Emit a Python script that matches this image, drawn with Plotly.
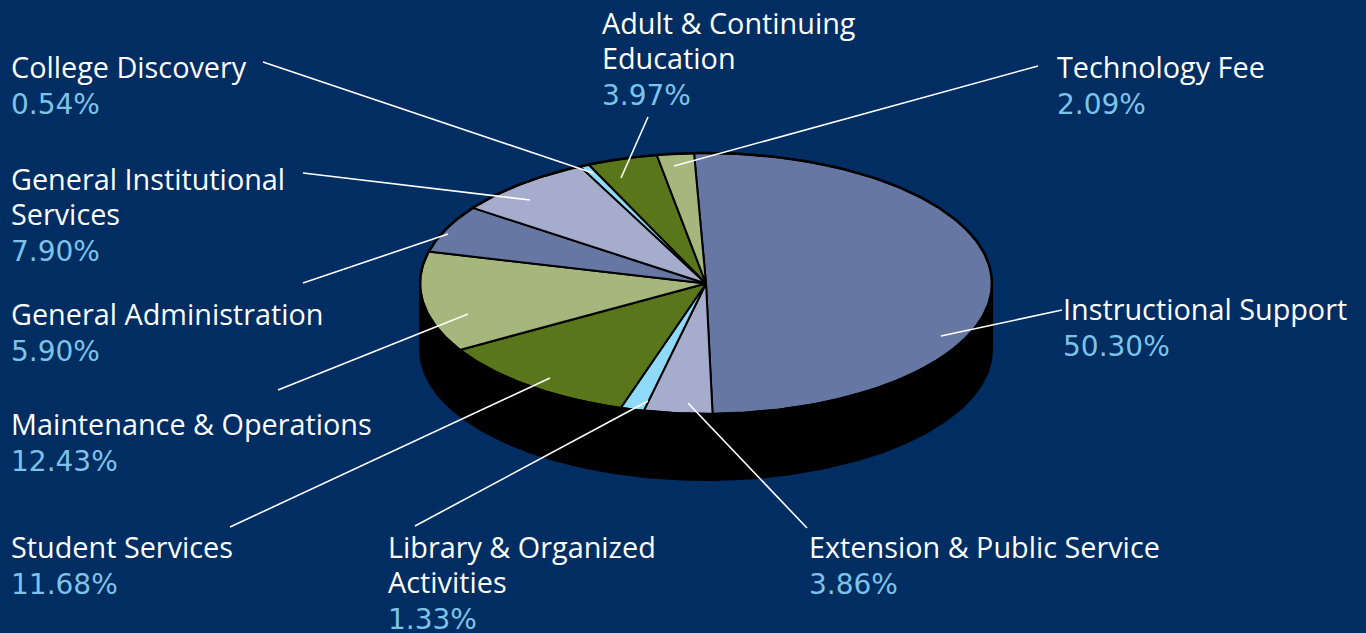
import numpy as np
import plotly.graph_objects as go

# ---------------- data ----------------
categories = [
    "Instructional Support", "Extension & Public Service", "Library & Organized Activities",
    "Student Services", "Maintenance & Operations", "General Administration",
    "General Institutional Services", "College Discovery", "Adult & Continuing Education",
    "Technology Fee",
]
values = [50.30, 3.86, 1.33, 11.68, 12.43, 5.90, 7.90, 0.54, 3.97, 2.09]
label_lines = [
    ["Instructional Support"], ["Extension & Public Service"], ["Library & Organized", "Activities"],
    ["Student Services"], ["Maintenance & Operations"], ["General Administration"],
    ["General Institutional", "Services"], ["College Discovery"], ["Adult & Continuing", "Education"],
    ["Technology Fee"],
]
pct_labels = [f"{v:.2f}%" for v in values]

# ---------------- styles / layout ----------------
BG = "#002d62"
colors = ["#6677a3", "#a6adcc", "#8fdaf8", "#5a761a", "#a6b77d",
          "#6677a3", "#a6adcc", "#8fdaf8", "#5a761a", "#a6b77d"]
PCT_COLOR = "#7dc3e8"
FONT = "Open Sans, Liberation Sans, Arial, sans-serif"
PCT_FONT = "DejaVu Sans, Open Sans, sans-serif"
FSIZE = 28.8
PCT_FSIZE = 28
LINE_H = 35
X_PAD = 3
Y_SHIFT = -2
PCT_Y_SHIFT = 1

W, H = 1366, 633
CX, CY, RX, RY, DEPTH = 706, 283.5, 286, 130.5, 66
START = -2.4  # degrees, clockwise from top

# label anchor (left x, first-line centre y)
label_pos = [(1064, 310), (810, 548), (389, 548), (12, 548), (12, 425),
             (12, 315), (12, 180), (12, 68), (603, 24), (1058, 68)]
leader_outer = [(1062, 310), (807, 528), (415, 526), (230, 527), (278, 390),
                (303, 283), (303, 173), (263, 62), (648, 117), (1038, 66)]
leader_inner = [(941, 336), (688, 403), (648, 401), (550, 378), (468, 314),
                (448, 234), (530, 200), (593, 173), (621, 178), (674, 166)]


def ell(phi_deg, dy=0.0):
    p = np.radians(phi_deg)
    return CX + RX * np.sin(p), CY - RY * np.cos(p) + dy


fig = go.Figure()

# side of the cylinder (front half)
phi = np.linspace(90, 270, 200)
tx, ty = ell(phi)
bx, by = ell(phi[::-1], DEPTH)
fig.add_trace(go.Scatter(
    x=np.concatenate([tx, bx, tx[:1]]), y=np.concatenate([ty, by, ty[:1]]),
    mode="lines", fill="toself", fillcolor="#000000",
    line=dict(color="#000000", width=2), hoverinfo="skip", showlegend=False))

# top slices
total = sum(values)
a0 = START
for cat, v, c in zip(categories, values, colors):
    span = v / total * 360.0
    angs = np.linspace(a0, a0 + span, max(3, int(span * 2)))
    ax_, ay_ = ell(angs)
    xs = np.concatenate([[CX], ax_, [CX]])
    ys = np.concatenate([[CY], ay_, [CY]])
    fig.add_trace(go.Scatter(
        x=xs, y=ys, mode="lines", fill="toself", fillcolor=c,
        line=dict(color="#000000", width=2), name=cat,
        hoverinfo="text", text=f"{cat}: {v:.2f}%", showlegend=False))
    a0 += span

# outline of top ellipse
phi_all = np.linspace(0, 360, 400)
ox, oy = ell(phi_all)
fig.add_trace(go.Scatter(x=ox, y=oy, mode="lines", line=dict(color="#000000", width=2.5),
                         hoverinfo="skip", showlegend=False))

# leader lines
for (x1, y1), (x2, y2) in zip(leader_outer, leader_inner):
    fig.add_trace(go.Scatter(x=[x1, x2], y=[y1, y2], mode="lines",
                             line=dict(color="#ffffff", width=1.6),
                             hoverinfo="skip", showlegend=False))

# labels
annotations = []
for lines, pct, (lx, ly) in zip(label_lines, pct_labels, label_pos):
    for i, t in enumerate(lines + [pct]):
        is_pct = i == len(lines)
        annotations.append(dict(
            x=lx - X_PAD, y=ly + i * LINE_H + (PCT_Y_SHIFT if is_pct else Y_SHIFT),
            xref="x", yref="y", text=t,
            showarrow=False, xanchor="left", yanchor="middle",
            font=dict(family=PCT_FONT if is_pct else FONT,
                      size=PCT_FSIZE if is_pct else FSIZE,
                      color=PCT_COLOR if is_pct else "#ffffff")))

fig.update_layout(
    width=W, height=H, margin=dict(l=0, r=0, t=0, b=0),
    paper_bgcolor=BG, plot_bgcolor=BG,
    xaxis=dict(range=[0, W], visible=False, fixedrange=True),
    yaxis=dict(range=[H, 0], visible=False, fixedrange=True),
    annotations=annotations, showlegend=False,
)

fig.write_html("out.html", config={"displayModeBar": False},
               post_script="document.body.style.margin='0';document.body.style.overflow='hidden';")
